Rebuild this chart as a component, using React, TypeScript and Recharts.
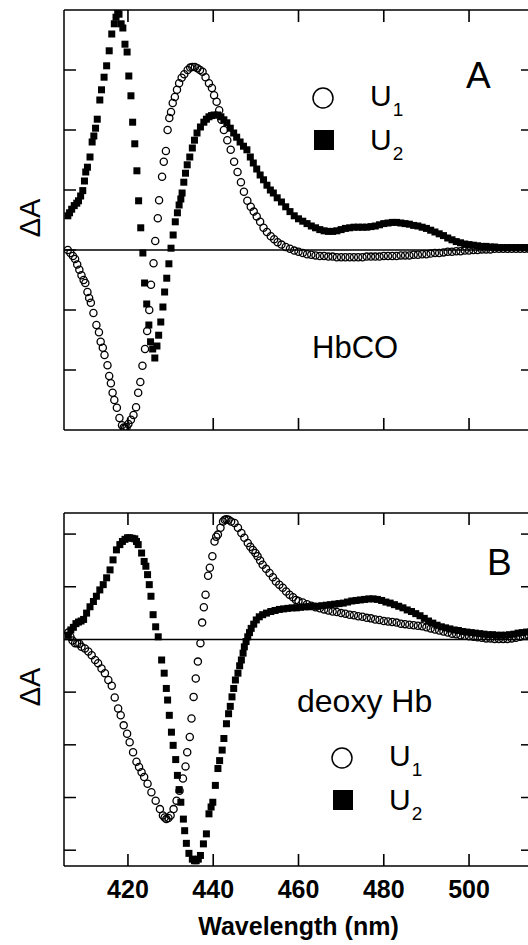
import React from 'react';
import { ScatterChart, Scatter, XAxis, YAxis, ReferenceLine } from 'recharts';

const FONT = '"Liberation Sans", Arial, Helvetica, sans-serif';

// shared wavelength axis (nm)
const xDomain = [405, 515];
const xTicks = [420, 440, 460, 480, 500];

// panel A (HbCO)
const topYDomain = [-3, 4];
const topYTicks = [-2, -1, 0, 1, 2, 3];

const topU1 = [
  [405.9, 0.0], [406.5, -0.05], [407.1, -0.1], [407.6, -0.15], [408.1, -0.24], [408.6, -0.33], [409.1, -0.42],
  [409.6, -0.5], [410.0, -0.55], [410.5, -0.7], [410.9, -0.8], [411.3, -0.88], [411.9, -1.05], [412.6, -1.25],
  [413.2, -1.37], [413.6, -1.53], [414.1, -1.63], [414.5, -1.75], [415.2, -1.92], [415.6, -2.1], [416.0, -2.22],
  [416.4, -2.38], [416.8, -2.5], [417.4, -2.63], [418.0, -2.8], [418.6, -2.92], [419.0, -2.96], [419.3, -2.97],
  [419.7, -2.95], [420.1, -2.9], [420.7, -2.83], [421.3, -2.75], [421.9, -2.62], [422.4, -2.38], [422.9, -2.2],
  [423.4, -1.93], [424.0, -1.65], [424.5, -1.35], [425.0, -1.0], [425.4, -0.58], [426.0, -0.22], [426.4, 0.15],
  [427.0, 0.53], [427.3, 0.83], [428.0, 1.22], [428.4, 1.47], [428.9, 1.65], [429.3, 2.0], [429.7, 2.2],
  [430.1, 2.3], [430.5, 2.45], [431.0, 2.55], [431.5, 2.67], [432.0, 2.78], [432.6, 2.87], [433.2, 2.93],
  [434.0, 3.0], [434.6, 3.04], [435.1, 3.05], [435.7, 3.05], [436.3, 3.03], [436.9, 3.0], [437.5, 2.97],
  [438.2, 2.88], [439.0, 2.78], [439.7, 2.7], [440.2, 2.58], [440.8, 2.47], [441.4, 2.33], [441.9, 2.17],
  [442.5, 2.0], [443.3, 1.83], [444.1, 1.67], [444.9, 1.47], [445.7, 1.3], [446.5, 1.13], [447.2, 0.97],
  [448.0, 0.82], [448.8, 0.72], [449.5, 0.64], [450.2, 0.56], [451.0, 0.47], [451.8, 0.37], [452.6, 0.3],
  [453.5, 0.23], [454.3, 0.18], [455.1, 0.13], [456, 0.09], [457, 0.05], [458, 0.02], [459, -0.01],
  [460, -0.03], [461, -0.05], [462, -0.07], [463, -0.08], [464, -0.09], [465, -0.1], [466, -0.1], [467, -0.11],
  [468, -0.11], [469, -0.12], [470, -0.12], [471, -0.12], [472, -0.12], [473, -0.12], [474, -0.12], [475, -0.12],
  [476, -0.11], [477, -0.11], [478, -0.11], [479, -0.11], [480, -0.1], [481, -0.1], [482, -0.1], [483, -0.1],
  [484, -0.09], [485, -0.09], [486, -0.09], [487, -0.08], [488, -0.08], [489, -0.07], [490, -0.07], [491, -0.06],
  [492, -0.05], [493, -0.05], [494, -0.04], [495, -0.03], [496, -0.03], [497, -0.02], [498, -0.02], [499, -0.01],
  [500, -0.01], [501, 0], [502, 0], [503, 0.01], [504, 0.01], [505, 0.01], [506, 0.02], [507, 0.02], [508, 0.02],
  [509, 0.02], [510, 0.02], [511, 0.02], [512, 0.02], [513, 0.02], [514, 0.02], [515, 0.02],
];

const topU2 = [
  [405.9, 0.57], [406.3, 0.62], [406.8, 0.68], [407.4, 0.74], [408.0, 0.78], [408.4, 0.82], [408.9, 0.9],
  [409.4, 0.99], [409.8, 1.15], [410.1, 1.3], [410.5, 1.38], [411.1, 1.55], [411.6, 1.8], [412.0, 1.9],
  [412.4, 2.03], [412.8, 2.18], [413.4, 2.5], [413.8, 2.67], [414.4, 2.88], [415.0, 3.07], [415.6, 3.32],
  [416.2, 3.6], [416.8, 3.77], [417.2, 3.88], [417.6, 3.95], [417.9, 3.93], [418.4, 3.77], [418.8, 3.7],
  [419.3, 3.43], [419.8, 3.3], [420.2, 2.9], [420.7, 2.57], [421.1, 2.13], [421.6, 1.77], [422.1, 1.32],
  [422.5, 0.82], [423.0, 0.37], [423.5, -0.05], [423.9, -0.55], [424.4, -0.9], [424.9, -1.25], [425.3, -1.53],
  [425.8, -1.65], [426.3, -1.8], [426.8, -1.6], [427.2, -1.42], [427.7, -1.2], [428.2, -0.95], [428.6, -0.7],
  [429.1, -0.47], [429.6, -0.23], [430.1, 0.03], [430.6, 0.25], [431.1, 0.47], [431.6, 0.62], [432.0, 0.75],
  [432.4, 0.85], [432.7, 0.95], [433.1, 1.13], [433.5, 1.28], [433.9, 1.42], [434.5, 1.55], [435.1, 1.7],
  [435.6, 1.83], [436.2, 1.95], [437.0, 2.05], [437.8, 2.13], [438.4, 2.18], [439.0, 2.22], [439.6, 2.24],
  [440.2, 2.25], [441.0, 2.25], [441.8, 2.22], [442.5, 2.17], [443.2, 2.12], [444.0, 2.03], [444.8, 1.95],
  [445.5, 1.88], [446.3, 1.8], [447.1, 1.73], [447.9, 1.67], [448.7, 1.55], [449.4, 1.45], [450.2, 1.35],
  [451.0, 1.25], [451.8, 1.17], [452.6, 1.08], [453.4, 1.0], [454.1, 0.95], [455, 0.87], [456, 0.8],
  [457, 0.72], [458, 0.64], [459, 0.57], [460, 0.52], [461, 0.48], [462, 0.44], [463, 0.4], [464, 0.37],
  [465, 0.34], [466, 0.32], [467, 0.31], [468, 0.31], [469, 0.32], [470, 0.34], [471, 0.36], [472, 0.37],
  [473, 0.38], [474, 0.38], [475, 0.38], [476, 0.38], [477, 0.39], [478, 0.4], [479, 0.42], [480, 0.44],
  [481, 0.45], [482, 0.46], [483, 0.46], [484, 0.45], [485, 0.44], [486, 0.43], [487, 0.41], [488, 0.4],
  [489, 0.38], [490, 0.36], [491, 0.33], [492, 0.3], [493, 0.27], [494, 0.24], [495, 0.2], [496, 0.17],
  [497, 0.14], [498, 0.12], [499, 0.1], [500, 0.09], [501, 0.08], [502, 0.07], [503, 0.06], [504, 0.06],
  [505, 0.05], [506, 0.05], [507, 0.04], [508, 0.04], [509, 0.04], [510, 0.04], [511, 0.04], [512, 0.04],
  [513, 0.04], [514, 0.04], [515, 0.04],
];

// panel B (deoxy Hb)
const botYDomain = [-4.3, 2.4];
const botYTicks = [-4, -3, -2, -1, 0, 1, 2];

const botU1 = [
  [406.0, 0.13], [406.5, 0.05], [407.0, -0.02], [407.6, -0.07], [408.1, -0.07], [408.6, -0.08], [409.1, -0.14],
  [409.9, -0.17], [410.7, -0.23], [411.5, -0.3], [412.3, -0.39], [413.0, -0.45], [413.8, -0.55], [414.6, -0.64],
  [415.4, -0.77], [416.2, -0.88], [416.9, -1.1], [417.7, -1.31], [418.3, -1.44], [419.0, -1.63], [419.8, -1.79],
  [420.4, -1.95], [421.2, -2.14], [422.0, -2.32], [422.6, -2.42], [423.2, -2.52], [423.8, -2.61], [424.6, -2.74],
  [425.5, -2.9], [426.5, -3.06], [427.5, -3.22], [428.2, -3.34], [428.6, -3.38], [429.0, -3.41], [429.5, -3.39],
  [430.0, -3.34], [430.7, -3.22], [431.4, -3.06], [432.1, -2.87], [432.9, -2.64], [433.5, -2.41], [433.9, -2.14],
  [434.5, -1.85], [434.9, -1.5], [435.4, -1.09], [435.9, -0.74], [436.4, -0.42], [437.0, -0.07], [437.4, 0.32],
  [437.8, 0.61], [438.2, 0.85], [438.8, 1.21], [439.2, 1.36], [439.8, 1.58], [440.3, 1.86], [440.7, 1.95],
  [441.1, 1.99], [441.7, 2.12], [442.3, 2.24], [442.7, 2.27], [443.1, 2.28], [443.6, 2.27], [444.2, 2.24],
  [445.0, 2.21], [445.8, 2.12], [446.6, 2.02], [447.3, 1.93], [448.1, 1.83], [448.7, 1.76], [449.3, 1.7],
  [449.9, 1.64], [450.4, 1.58], [451.0, 1.5], [451.6, 1.42], [452.4, 1.34], [453.2, 1.26], [454.0, 1.18],
  [454.7, 1.1], [455.5, 1.04], [456.3, 0.98], [457.1, 0.91], [457.9, 0.85], [458.7, 0.8], [459.4, 0.75],
  [460, 0.73], [461, 0.7], [462, 0.67], [463, 0.64], [464, 0.61], [465, 0.59], [466, 0.57], [467, 0.55],
  [468, 0.53], [469, 0.52], [470, 0.5], [471, 0.49], [472, 0.47], [473, 0.46], [474, 0.44], [475, 0.43],
  [476, 0.41], [477, 0.4], [478, 0.38], [479, 0.37], [480, 0.35], [481, 0.34], [482, 0.33], [483, 0.32],
  [484, 0.3], [485, 0.29], [486, 0.28], [487, 0.27], [488, 0.26], [489, 0.25], [490, 0.23], [491, 0.21],
  [492, 0.19], [493, 0.17], [494, 0.15], [495, 0.13], [496, 0.11], [497, 0.1], [498, 0.08], [499, 0.07],
  [500, 0.06], [501, 0.05], [502, 0.04], [503, 0.03], [504, 0.02], [505, 0.02], [506, 0.01], [507, 0.01],
  [508, 0.01], [509, 0.01], [510, 0.02], [511, 0.03], [512, 0.05], [513, 0.07], [514, 0.08], [515, 0.09],
];

const botU2 = [
  [406.0, 0.08], [406.6, 0.18], [407.2, 0.23], [407.8, 0.3], [408.4, 0.33], [409.0, 0.35], [409.6, 0.38],
  [410.3, 0.5], [411.1, 0.62], [411.9, 0.72], [412.6, 0.82], [413.4, 0.94], [414.2, 1.04], [415.0, 1.17],
  [415.8, 1.32], [416.5, 1.51], [417.3, 1.7], [418.1, 1.8], [418.7, 1.86], [419.3, 1.9], [419.9, 1.93],
  [420.4, 1.93], [421.0, 1.92], [421.6, 1.91], [422.0, 1.86], [422.4, 1.8], [423.2, 1.64], [423.8, 1.48],
  [424.2, 1.39], [424.6, 1.23], [425.0, 1.04], [425.4, 0.82], [425.9, 0.47], [426.5, 0.24], [427.1, 0.05],
  [427.9, -0.39], [428.5, -0.64], [429.0, -0.93], [429.3, -1.15], [429.7, -1.44], [430.2, -1.76], [430.6, -2.01],
  [431.2, -2.28], [431.6, -2.58], [432.0, -2.85], [432.4, -3.09], [433.0, -3.41], [433.3, -3.63], [433.7, -3.87],
  [434.3, -4.06], [435.1, -4.17], [435.6, -4.2], [436.0, -4.2], [436.5, -4.17], [437.0, -4.1], [437.7, -3.88],
  [438.4, -3.69], [439.0, -3.31], [439.5, -3.18], [439.9, -3.09], [440.5, -2.77], [441.1, -2.45], [441.5, -2.3],
  [442.1, -2.1], [442.5, -1.88], [443.1, -1.6], [443.6, -1.41], [444.0, -1.27], [444.4, -1.09], [444.8, -0.93],
  [445.2, -0.77], [445.8, -0.64], [446.2, -0.5], [446.6, -0.39], [447.0, -0.26], [447.3, -0.14], [447.7, -0.04],
  [448.1, 0.05], [448.5, 0.13], [448.9, 0.21], [449.5, 0.29], [450.1, 0.37], [450.8, 0.43], [451.6, 0.47],
  [452.5, 0.5], [453.5, 0.53], [454.5, 0.55], [455.5, 0.57], [456.5, 0.58], [457.5, 0.59], [458.5, 0.6],
  [459.5, 0.6], [460.5, 0.61], [461.5, 0.62], [462.5, 0.62], [463.5, 0.63], [464.5, 0.63], [465.5, 0.64],
  [466.5, 0.65], [467.5, 0.66], [468.5, 0.67], [469.5, 0.68], [470.5, 0.69], [471.5, 0.71], [472.5, 0.73],
  [473.5, 0.74], [474.5, 0.75], [475.5, 0.76], [476.5, 0.77], [477.5, 0.77], [478.5, 0.76], [479.5, 0.74],
  [480.5, 0.71], [481.5, 0.69], [482.5, 0.66], [483.5, 0.63], [484.5, 0.6], [485.5, 0.56], [486.5, 0.53],
  [487.5, 0.49], [488.5, 0.45], [489.5, 0.4], [490.5, 0.35], [491.5, 0.31], [492.5, 0.27], [493.5, 0.24],
  [494.5, 0.22], [495.5, 0.2], [496.5, 0.18], [497.5, 0.17], [498.5, 0.15], [499.5, 0.14], [500.5, 0.13],
  [501.5, 0.12], [502.5, 0.11], [503.5, 0.1], [504.5, 0.09], [505.5, 0.09], [506.5, 0.08], [507.5, 0.08],
  [508.5, 0.08], [509.5, 0.09], [510.5, 0.1], [511.5, 0.12], [512.5, 0.13], [513.5, 0.14], [514.5, 0.15],
];

const toPoints = (rows: number[][]) => rows.map(([wl, v]) => ({ wl, v }));

const line = { stroke: '#000', strokeWidth: 1.5 };
const NoLabel = () => <g />;

// x tick stubs on the frame, drawn as thin filled bars (one point per tick at each end of the y domain)
const TickDown = (p: any) => <rect x={p.cx - 0.8} y={p.cy} width={1.6} height={12} fill="#000" />;
const TickUp = (p: any) => <rect x={p.cx - 0.8} y={p.cy - 12} width={1.6} height={12} fill="#000" />;

const OpenCircle = (p: any) => (
  <circle cx={p.cx} cy={p.cy} r={3.6} fill="none" stroke="#000" strokeWidth={1.3} />
);
const FilledSquare = (p: any) => (
  <rect x={p.cx - 3.5} y={p.cy - 3.5} width={7} height={7} fill="#000" />
);

interface PanelProps {
  u1: number[][];
  u2: number[][];
  yDomain: number[];
  yTicks: number[];
  height: number;
  withLabels?: boolean;
}

function Panel({ u1, u2, yDomain, yTicks, height, withLabels }: PanelProps) {
  const topStubs = xTicks.map((wl) => ({ wl, v: yDomain[1] }));
  const bottomStubs = xTicks.map((wl) => ({ wl, v: yDomain[0] }));
  return (
    <ScatterChart width={545} height={height} margin={{ top: 9, right: 12, bottom: 9, left: 64 }}>
      <XAxis xAxisId="b" type="number" dataKey="wl" domain={xDomain} ticks={xTicks} orientation="bottom"
        height={1} tick={false} axisLine={line} tickLine={false} allowDataOverflow />
      <XAxis xAxisId="t" type="number" dataKey="wl" domain={xDomain} ticks={xTicks} orientation="top"
        height={1} tick={false} axisLine={line} tickLine={false} allowDataOverflow />
      {withLabels && (
        <XAxis xAxisId="lab" type="number" dataKey="wl" domain={xDomain} ticks={xTicks} orientation="bottom"
          height={69} axisLine={false} tickLine={false} tickSize={0} tickMargin={13}
          tick={{ fontSize: 25, fontWeight: 'bold', fill: '#000', fontFamily: FONT }}
          label={{ value: 'Wavelength (nm)', position: 'insideBottom', offset: 1,
            style: { fontSize: 25, fontWeight: 'bold', fill: '#000', fontFamily: FONT } }}
          allowDataOverflow />
      )}
      <YAxis yAxisId="l" type="number" dataKey="v" domain={yDomain} ticks={yTicks} orientation="left"
        mirror tick={NoLabel} tickSize={12} axisLine={line} tickLine={line} allowDataOverflow />
      <YAxis yAxisId="r" type="number" dataKey="v" domain={yDomain} ticks={yTicks} orientation="right"
        mirror tick={NoLabel} tickSize={12} axisLine={line} tickLine={line} allowDataOverflow />
      <ReferenceLine xAxisId="b" yAxisId="l" y={0} stroke="#000" strokeWidth={1.5} />
      <Scatter xAxisId="b" yAxisId="l" data={topStubs} shape={TickDown} isAnimationActive={false} />
      <Scatter xAxisId="b" yAxisId="l" data={bottomStubs} shape={TickUp} isAnimationActive={false} />
      <Scatter xAxisId="b" yAxisId="l" data={toPoints(u1)} shape={OpenCircle} isAnimationActive={false} />
      <Scatter xAxisId="b" yAxisId="l" data={toPoints(u2)} shape={FilledSquare} isAnimationActive={false} />
    </ScatterChart>
  );
}

function Legend({ x, y }: { x: number; y: number }) {
  // x,y = centre of the circle marker
  return (
    <g fontFamily={FONT} fill="#000">
      <circle cx={x} cy={y} r={10} fill="none" stroke="#000" strokeWidth={1.5} />
      <text x={x + 47} y={y + 8} fontSize={30}>U<tspan dx={1} dy={10} fontSize={19}>1</tspan></text>
      <rect x={x - 9} y={y + 32} width={20} height={20} fill="#000" />
      <text x={x + 47} y={y + 52} fontSize={30}>U<tspan dx={1} dy={10} fontSize={19}>2</tspan></text>
    </g>
  );
}

export default function App() {
  return (
    <div style={{ position: 'absolute', left: 0, top: 0, width: 528, height: 945, overflow: 'hidden', background: '#fff' }}>
      <div style={{ position: 'absolute', left: 0, top: 0 }}>
        <Panel u1={topU1} u2={topU2} yDomain={topYDomain} yTicks={topYTicks} height={440} />
      </div>
      <div style={{ position: 'absolute', left: 0, top: 503 }}>
        <Panel u1={botU1} u2={botU2} yDomain={botYDomain} yTicks={botYTicks} height={442} withLabels />
      </div>
      <svg width={528} height={945} style={{ position: 'absolute', left: 0, top: 0, pointerEvents: 'none' }}>
        <g fontFamily={FONT} fill="#000">
          <text x={40} y={218} fontSize={29} textAnchor="middle" transform="rotate(-90 40 218)">ΔA</text>
          <text x={40} y={687} fontSize={29} textAnchor="middle" transform="rotate(-90 40 687)">ΔA</text>
          <text x={466} y={88} fontSize={37}>A</text>
          <text x={487} y={575} fontSize={37}>B</text>
          <text x={312} y={358} fontSize={31}>HbCO</text>
          <text x={297} y={712} fontSize={32}>deoxy Hb</text>
        </g>
        <Legend x={323} y={98} />
        <Legend x={342} y={758} />
      </svg>
    </div>
  );
}
